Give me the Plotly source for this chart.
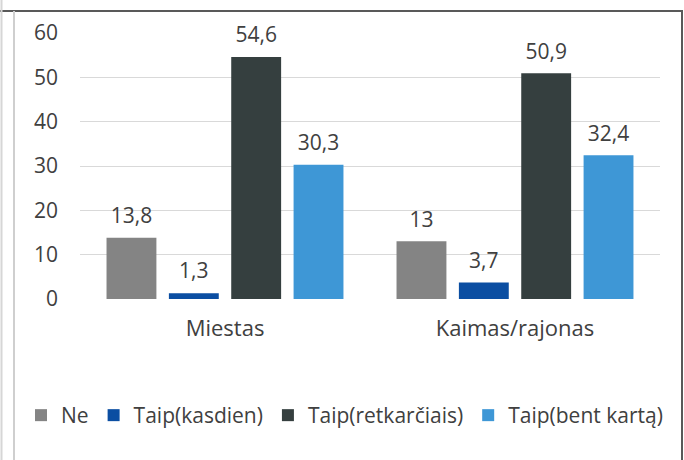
import plotly.graph_objects as go

categories = ["Miestas", "Kaimas/rajonas"]
series_names = ["Ne", "Taip(kasdien)", "Taip(retkarčiais)", "Taip(bent kartą)"]
ne = [13.8, 13]
kasdien = [1.3, 3.7]
retkarciais = [54.6, 50.9]
bent_karta = [30.3, 32.4]
colors = ["#848484", "#0b4ea2", "#353f3f", "#3e97d6"]
y_ticks = [0, 10, 20, 30, 40, 50, 60]

FONT = "Open Sans"
FS_NUM = 21
FS_TXT = 22
FS_LEG = 21
TXT = "#404040"
LABEL_GAP = 1.3  # extra space (data units) between bar top and its label

series_values = [ne, kasdien, retkarciais, bent_karta]

fig = go.Figure()
for name, vals, col in zip(series_names, series_values, colors):
    fig.add_trace(go.Bar(
        x=categories, y=vals, name=name,
        marker=dict(color=col, line=dict(width=0)),
        offsetgroup=name, hoverinfo="skip",
    ))
for name, vals in zip(series_names, series_values):
    # transparent spacer bars carrying the value labels
    fig.add_trace(go.Bar(
        x=categories, y=[LABEL_GAP] * len(vals), base=vals,
        marker=dict(color="rgba(0,0,0,0)", line=dict(width=0)),
        text=[f"{v:g}".replace(".", ",") for v in vals],
        textposition="outside", textangle=0,
        textfont=dict(family=FONT, size=FS_NUM, color=TXT),
        cliponaxis=False, offsetgroup=name, showlegend=False, hoverinfo="skip",
    ))

# geometry of plot area in pixels
L, R, T, B = 80, 660, 33, 299
W, H = R - L, B - T
def px(x):
    return (x - L) / W
def py(y):
    return (B - y) / H

shapes = [
    dict(type="line", xref="paper", yref="paper", x0=px(0), x1=px(683), y0=py(11), y1=py(11),
         line=dict(color="#595959", width=2)),
    dict(type="line", xref="paper", yref="paper", x0=px(682), x1=px(682), y0=py(11), y1=py(460),
         line=dict(color="#595959", width=2)),
    dict(type="line", xref="paper", yref="paper", x0=px(14), x1=px(14), y0=py(11), y1=py(460),
         line=dict(color="#cfcfcf", width=2)),
    dict(type="line", xref="paper", yref="paper", x0=px(1.5), x1=px(1.5), y0=py(0), y1=py(460),
         line=dict(color="#d6d6d6", width=2)),
]

fig.update_layout(
    width=684, height=460,
    margin=dict(l=L, r=684 - R, t=T, b=460 - B, autoexpand=False),
    paper_bgcolor="white", plot_bgcolor="white",
    barmode="group", bargap=0.14, bargroupgap=0.2,
    font=dict(family=FONT, size=FS_TXT, color=TXT),
    showlegend=True,
    legend=dict(orientation="h", x=px(21), xanchor="left", y=py(395), yanchor="top",
                font=dict(family=FONT, size=FS_LEG, color=TXT), itemwidth=30,
                traceorder="normal"),
    shapes=shapes,
    xaxis=dict(showgrid=False, showline=False, ticks="", ticklabelstandoff=14,
               tickfont=dict(family=FONT, size=FS_TXT, color=TXT)),
    yaxis=dict(range=[0, 60], tickvals=y_ticks, showgrid=True, gridcolor="#d9d9d9",
               gridwidth=1, zeroline=False, showline=False, ticks="",
               ticklabelstandoff=21, tickfont=dict(family=FONT, size=FS_NUM, color=TXT)),
)

fig.write_html("out.html", config={"displayModeBar": False},
               post_script="document.body.style.margin='0';")
